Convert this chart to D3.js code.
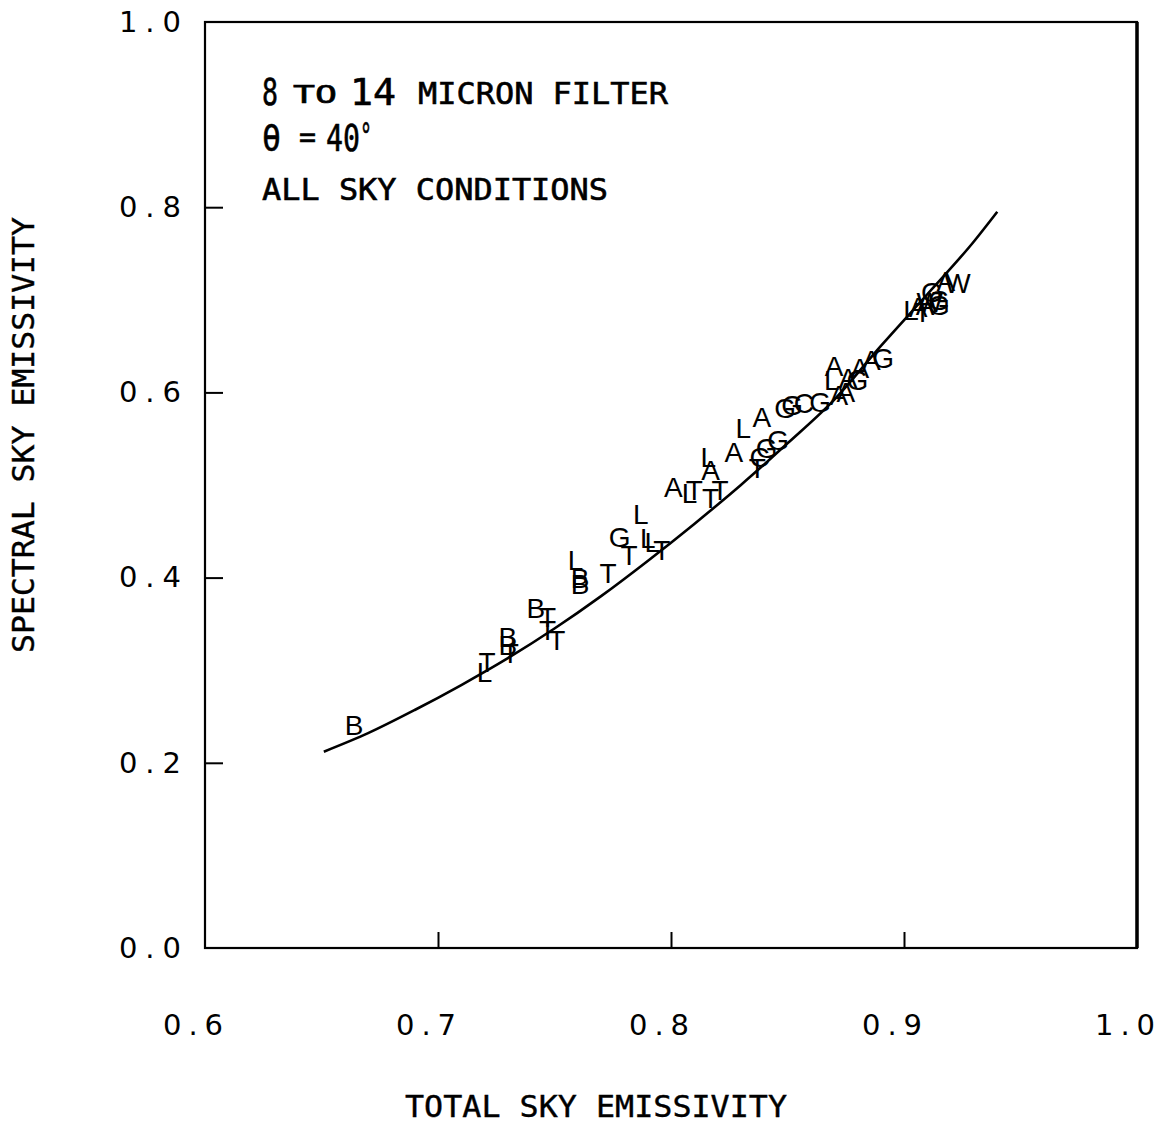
<!DOCTYPE html>
<html>
<head>
<meta charset="utf-8">
<script src="https://d3js.org/d3.v7.min.js"></script>
<style>
  body { margin: 0; background: #fff; }
  svg { display: block; }
</style>
</head>
<body>
<svg id="chart"></svg>
<script>
// fitted curve
var curveX = [0.651, 0.67, 0.69, 0.71, 0.73, 0.75, 0.77, 0.79, 0.81, 0.83, 0.85, 0.87, 0.89, 0.91, 0.93, 0.94];
var curveY = [0.212, 0.232, 0.257, 0.284, 0.313, 0.345, 0.380, 0.418, 0.458, 0.500, 0.545, 0.592, 0.650, 0.706, 0.763, 0.795];

// plotted letters (symbol = station / sky type code)
var ptLabel = ["B","L","T","B","B","T","B","T","T","T",
               "L","B","B","T","G","T","L","L","L","T",
               "A","L","T","T","T","L","A","A","L","A",
               "C","G","G","T","G","G","C","G","A","A",
               "A","L","A","G","A","A","G",
               "L","A","T","A","W","G","G","G","A","W"];
var ptX = [0.664,0.720,0.721,0.730,0.730,0.731,0.742,0.747,0.747,0.751,
           0.759,0.761,0.761,0.773,0.778,0.782,0.787,0.790,0.792,0.796,
           0.801,0.808,0.810,0.817,0.821,0.816,0.817,0.827,0.831,0.839,
           0.838,0.841,0.846,0.837,0.849,0.852,0.857,0.864,0.872,0.875,
           0.870,0.869,0.876,0.880,0.881,0.886,0.891,
           0.903,0.906,0.908,0.909,0.911,0.912,0.915,0.915,0.918,0.923];
var ptY = [0.241,0.298,0.309,0.336,0.327,0.319,0.367,0.357,0.343,0.333,
           0.419,0.393,0.400,0.405,0.444,0.424,0.469,0.443,0.438,0.430,
           0.498,0.491,0.495,0.486,0.495,0.530,0.516,0.536,0.562,0.573,
           0.530,0.540,0.549,0.518,0.583,0.586,0.589,0.590,0.597,0.600,
           0.629,0.613,0.616,0.613,0.626,0.635,0.637,
           0.689,0.692,0.687,0.694,0.698,0.708,0.694,0.700,0.720,0.718];

var xTicks = [0.6, 0.7, 0.8, 0.9, 1.0];
var yTicks = [0.0, 0.2, 0.4, 0.6, 0.8, 1.0];

var width = 1165, height = 1126;
var margin = {top: 22, right: 28, bottom: 178, left: 205};
var w = width - margin.left - margin.right,
    h = height - margin.top - margin.bottom;

var svg = d3.select("#chart").attr("width", width).attr("height", height);
svg.append("rect").attr("width", width).attr("height", height).attr("fill", "#fff");

var g = svg.append("g").attr("transform", "translate(" + margin.left + "," + margin.top + ")");

var x = d3.scaleLinear().domain([0.6, 1.0]).range([0, w]);
var y = d3.scaleLinear().domain([0.0, 1.0]).range([h, 0]);

// y axis, ticks pointing inward
var yAx = g.append("g")
  .call(d3.axisLeft(y).tickValues(yTicks).tickFormat(d3.format(".1f"))
        .tickSizeInner(-18).tickSizeOuter(0).tickPadding(16));
yAx.select(".domain").remove();
yAx.selectAll(".tick line").filter(function(d) { return d == 0 || d == 1; }).remove();
yAx.selectAll(".tick line").attr("stroke", "#000").attr("stroke-width", 2);
yAx.selectAll("text")
   .attr("font-family", "DejaVu Sans, sans-serif")
   .attr("font-size", 29)
   .attr("letter-spacing", "8px")
   .attr("fill", "#000");

// x axis
var xAx = g.append("g")
  .attr("transform", "translate(0," + h + ")")
  .call(d3.axisBottom(x).tickValues(xTicks).tickFormat(d3.format(".1f"))
        .tickSizeInner(-16).tickSizeOuter(0).tickPadding(66));
xAx.select(".domain").remove();
xAx.selectAll(".tick line").filter(function(d) { return d == 0.6 || d == 1.0; }).remove();
xAx.selectAll(".tick line").attr("stroke", "#000").attr("stroke-width", 2);
xAx.selectAll("text")
   .attr("font-family", "DejaVu Sans, sans-serif")
   .attr("font-size", 29)
   .attr("letter-spacing", "7px")
   .attr("dx", -9)
   .attr("fill", "#000");

// frame
g.append("rect")
 .attr("x", 0).attr("y", 0).attr("width", w).attr("height", h)
 .attr("fill", "none").attr("stroke", "#000").attr("stroke-width", 2.2);
g.append("line")
 .attr("x1", w).attr("x2", w).attr("y1", 0).attr("y2", h)
 .attr("stroke", "#000").attr("stroke-width", 3.5);

// fitted curve
var line = d3.line()
  .x(function(d, i) { return x(curveX[i]); })
  .y(function(d, i) { return y(curveY[i]); })
  .curve(d3.curveMonotoneX);
g.append("path")
 .datum(curveX)
 .attr("d", line)
 .attr("fill", "none")
 .attr("stroke", "#000")
 .attr("stroke-width", 2.6);

// letters
g.selectAll(".pt")
 .data(ptLabel)
 .enter()
 .append("text")
 .attr("class", "pt")
 .attr("x", function(d, i) { return x(ptX[i]); })
 .attr("y", function(d, i) { return y(ptY[i]); })
 .attr("dy", "0.36em")
 .attr("text-anchor", "middle")
 .attr("font-family", "Liberation Sans, Arial, sans-serif")
 .attr("font-size", 28)
 .attr("fill", "#000")
 .text(function(d) { return d; });

// annotation block
var mono = "DejaVu Sans Mono, monospace";
function note(txt, px, py, size, len) {
  svg.append("text")
     .attr("x", px).attr("y", py)
     .attr("font-family", mono)
     .attr("font-size", size)
     .attr("textLength", len)
     .attr("lengthAdjust", "spacingAndGlyphs")
     .attr("fill", "#000")
     .attr("stroke", "#000")
     .attr("stroke-width", 0.6)
     .text(txt);
}
note("8", 262, 105, 38, 16);
note("TO", 293, 103, 24, 44);
note("14", 350, 105, 38, 46);
note("MICRON FILTER", 418, 104, 30, 250);
note("\u03B8", 262, 151, 38, 19);
note("=", 299, 147, 30, 17);
note("40", 326, 151, 38, 34);
note("\u00B0", 360, 148, 36, 12);
note("ALL SKY CONDITIONS", 262, 200, 30, 346);

// axis titles
svg.append("text")
   .attr("x", 596).attr("y", 1117)
   .attr("text-anchor", "middle")
   .attr("font-family", mono)
   .attr("font-size", 30)
   .attr("textLength", 382)
   .attr("lengthAdjust", "spacingAndGlyphs")
   .attr("stroke", "#000")
   .attr("stroke-width", 0.4)
   .text("TOTAL SKY EMISSIVITY");

svg.append("text")
   .attr("transform", "translate(34,435) rotate(-90)")
   .attr("text-anchor", "middle")
   .attr("font-family", mono)
   .attr("font-size", 30)
   .attr("textLength", 436)
   .attr("lengthAdjust", "spacingAndGlyphs")
   .attr("stroke", "#000")
   .attr("stroke-width", 0.4)
   .text("SPECTRAL SKY EMISSIVITY");
</script>
</body>
</html>
